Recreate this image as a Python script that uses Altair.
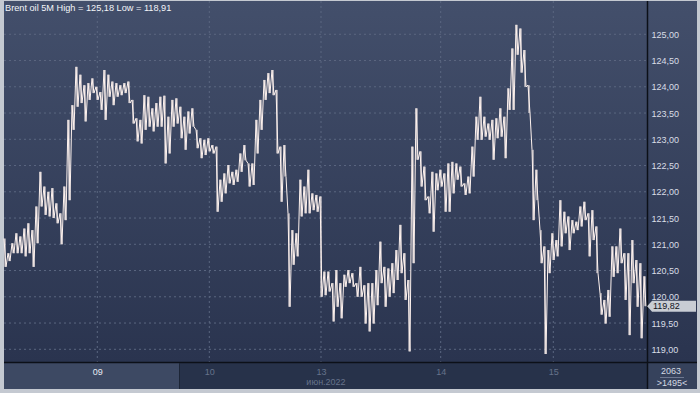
import altair as alt
import pandas as pd

# ---- data (price envelope per ~4px bucket) ----
hi = [121.11, 120.83, 121.02, 121.21, 121.15, 121.30, 121.40, 121.27, 121.72, 122.38,
      122.10, 122.00, 122.07, 121.78, 121.59, 122.10, 123.37, 123.65, 124.38, 124.23,
      124.03, 124.07, 124.16, 124.00, 123.90, 124.32, 124.23, 124.10, 124.07, 124.03,
      124.07, 124.10, 123.75, 123.40, 123.37, 123.84, 123.81, 123.59, 123.69,
      123.81, 123.83, 123.43, 123.75, 123.78, 123.62, 123.43, 123.53, 123.59, 123.18,
      123.02, 122.99, 123.02, 122.89, 122.86, 122.23, 122.35, 122.51, 122.38, 122.42,
      122.73, 122.89, 122.54, 122.54, 123.37, 123.75, 124.13, 124.26, 124.32, 123.94,
      122.86, 122.89, 121.59, 121.27, 121.21, 122.23, 122.10, 122.42, 121.97, 121.94,
      121.91, 120.48, 120.48, 120.26, 120.51, 120.26, 120.42, 120.51, 120.45, 120.26,
      120.57, 120.22, 120.26, 120.26, 120.51, 121.05, 120.57, 120.54, 120.64, 120.89,
      121.37, 120.83, 120.32, 122.86, 123.59, 122.77, 122.48, 121.91, 122.38, 122.35,
      122.42, 122.35, 122.54, 122.57, 122.54, 122.48, 122.16, 122.29, 122.86, 123.43,
      123.81, 123.43, 123.30, 123.37, 123.40, 123.59, 123.43, 123.97, 124.73, 125.18,
      125.11, 124.70, 124.03, 122.80, 122.42, 121.27, 120.96, 120.89, 121.21, 121.08,
      121.84, 121.62, 121.53, 121.46, 121.43, 121.72, 121.81, 121.59, 121.65, 121.34,
      120.07, 119.94, 120.13, 120.96, 120.96, 121.30, 120.83, 120.83, 121.08, 120.70,
      120.64, 120.39]
lo = [120.57, 120.68, 120.83, 120.83, 120.83, 120.77, 120.83, 120.57, 121.02, 121.72,
      121.56, 121.53, 121.50, 121.40, 121.00, 121.46, 121.84, 123.18, 123.62, 123.69,
      123.34, 123.75, 123.88, 123.75, 123.56, 123.37, 123.81, 123.65, 123.81, 123.84,
      123.88, 123.69, 123.30, 122.96, 122.92, 123.18, 123.24, 123.15, 123.24,
      123.24, 122.54, 122.73, 123.24, 123.30, 123.02, 122.80, 123.11, 123.24, 122.83,
      122.64, 122.70, 122.77, 122.73, 121.62, 121.81, 121.97, 122.16, 122.13, 122.19,
      122.38, 122.60, 122.10, 122.13, 122.73, 123.18, 123.75, 123.88, 123.84, 122.73,
      121.81, 122.29, 119.81, 120.61, 120.77, 121.53, 121.59, 121.59, 121.65, 121.62,
      120.00, 120.03, 120.10, 119.53, 119.81, 119.59, 120.19, 120.26, 120.19, 120.00,
      120.00, 119.49, 119.34, 119.49, 119.84, 120.26, 119.81, 120.00, 120.07, 120.32,
      120.45, 119.94, 118.96, 120.64, 122.61, 122.10, 121.84, 121.59, 121.24, 122.03,
      122.10, 121.62, 121.62, 121.97, 122.23, 122.10, 121.94, 121.97, 122.29, 122.99,
      122.99, 123.05, 122.99, 122.61, 123.02, 123.05, 122.64, 123.56, 123.56, 124.61,
      124.27, 124.00, 123.50, 121.46, 121.84, 120.64, 118.91, 120.45, 120.70, 120.77,
      120.96, 121.21, 120.89, 121.21, 121.27, 121.34, 121.46, 120.77, 121.08, 120.45,
      119.66, 119.49, 119.62, 120.38, 120.45, 120.64, 119.94, 119.27, 120.26, 119.81,
      119.21, 119.82]

y_ticks = [119.0, 119.5, 120.0, 120.5, 121.0, 121.5, 122.0, 122.5, 123.0, 123.5, 124.0, 124.5, 125.0]
day_ticks = [46.65, 102.65, 158.5, 218.35, 274.65]
day_labels = ["09", "10", "13", "14", "15"]
month_label = "июн.2022"
title_text = "Brent oil 5M High = 125,18 Low = 118,91"
last_price = 119.82
bar_total = "2063"
bar_visible = ">1495<"

# ---- tables ----
rows = []
for i, (h, l) in enumerate(zip(hi, lo)):
    rows.append({"t": 2 * i, "price": h})
    rows.append({"t": 2 * i + 1, "price": l})
price_df = pd.DataFrame(rows)
range_df = pd.DataFrame({"t": [2 * i + 0.5 for i in range(len(hi))], "hi": hi, "lo": lo})
ytick_df = pd.DataFrame({"v": y_ticks})
day_df = pd.DataFrame({"t": day_ticks, "label": day_labels})
one = pd.DataFrame({"a": [0]})
last_df = pd.DataFrame({"price": [last_price], "label": [f"{last_price:.2f}".replace(".", ",")]})
month_df = pd.DataFrame({"t": [day_ticks[2]], "label": [month_label]})

W, H = 643, 361
FONT = "Liberation Sans"
LINE = "#fff3ef"
xs = alt.Scale(domain=[0, 321.5], nice=False, zero=False)
ys = alt.Scale(domain=[118.758, 125.634], nice=False, zero=False)

parts = []
for k in range(len(day_ticks) - 1):
    mid = (day_ticks[k] + day_ticks[k + 1]) / 2
    parts.append(f"datum.value < {mid} ? '{day_labels[k]}' : ")
x_label_expr = "".join(parts) + f"'{day_labels[-1]}'"

y_axis = alt.Axis(orient="right", values=y_ticks, grid=False, ticks=False, domain=False,
                  labelExpr="replace(format(datum.value, '.2f'), '.', ',')",
                  labelPadding=4, labelAlign="left", labelBaseline="middle",
                  labelColor="#d9dee6", labelFont=FONT, labelFontSize=9, title=None, zindex=1)
x_axis = alt.Axis(orient="bottom", values=day_ticks, grid=False, ticks=False, domain=False,
                  labelExpr=x_label_expr, labelPadding=9, labelBaseline="middle",
                  labelColor={"condition": {"test": f"datum.value < {day_ticks[0] + 1}", "value": "#e6ebf3"},
                              "value": "#66728b"},
                  labelFont=FONT, labelFontSize=9, title=None, zindex=1)

grad = alt.LinearGradient(gradient="linear",
                          stops=[alt.GradientStop(color="#434f6b", offset=0),
                                 alt.GradientStop(color="#2a344f", offset=1)],
                          x1=0, x2=0, y1=0, y2=1)

bg = alt.Chart(one).mark_rect(fill=grad).encode(
    x=alt.value(0), x2=alt.value(693), y=alt.value(0), y2=alt.value(H))

hgrid = alt.Chart(ytick_df).mark_rule(color="#5b6780", strokeDash=[2, 3], strokeWidth=1).encode(
    y=alt.Y("v:Q", scale=ys, axis=y_axis), x=alt.value(0), x2=alt.value(W))

vgrid = alt.Chart(day_df).mark_rule(color="#5b6780", strokeDash=[2, 3], strokeWidth=1).encode(
    x=alt.X("t:Q", scale=xs, axis=x_axis), y=alt.value(0), y2=alt.value(H))

ranges = alt.Chart(range_df).mark_rule(color=LINE, strokeWidth=1.0).encode(
    x=alt.X("t:Q", scale=xs, axis=x_axis),
    y=alt.Y("hi:Q", scale=ys, axis=y_axis), y2="lo:Q")

line = alt.Chart(price_df).mark_line(color=LINE, strokeWidth=1.0).encode(
    x=alt.X("t:Q", scale=xs, axis=x_axis),
    y=alt.Y("price:Q", scale=ys, axis=y_axis))

band = alt.Chart(one).mark_rect(fill="#27324a").encode(
    x=alt.value(0), x2=alt.value(W), y=alt.value(H + 1), y2=alt.value(388))
band_hl = alt.Chart(one).mark_rect(fill="#3d4963").encode(
    x=alt.value(0), x2=alt.value(175), y=alt.value(H + 1), y2=alt.value(388))
cell = alt.Chart(one).mark_rect(fill="#36425c").encode(
    x=alt.value(W + 1), x2=alt.value(693), y=alt.value(H + 1), y2=alt.value(388))

sep_h = alt.Chart(one).mark_rule(color="#0c1018", strokeWidth=1.5).encode(
    x=alt.value(0), x2=alt.value(693), y=alt.value(H + 0.5))
sep_v = alt.Chart(one).mark_rule(color="#0c1018", strokeWidth=1.5).encode(
    x=alt.value(W + 0.5), y=alt.value(0), y2=alt.value(388))
sep_hl = alt.Chart(one).mark_rule(color="#1c2536", strokeWidth=1).encode(
    x=alt.value(175.5), y=alt.value(H + 1), y2=alt.value(388))

marker_box = alt.Chart(last_df).mark_rule(color="#c9cdd4", strokeWidth=11).encode(
    x=alt.value(648), x2=alt.value(692), y=alt.Y("price:Q", scale=ys, axis=y_axis))
marker_tip = alt.Chart(last_df).mark_point(shape="M-0.45,0L0.45,-1L0.45,1Z", filled=True,
                                           size=121, color="#c9cdd4", opacity=1).encode(
    x=alt.value(645.6), y=alt.Y("price:Q", scale=ys, axis=y_axis))
marker_txt = alt.Chart(last_df).mark_text(align="left", baseline="middle", font=FONT,
                                          fontSize=9, color="#10141c").encode(
    x=alt.value(649), y=alt.Y("price:Q", scale=ys, axis=y_axis), text="label:N")

title = alt.Chart(one).mark_text(align="left", baseline="middle", font=FONT, fontSize=9.2,
                                 color="#f2f4f8", text=title_text).encode(
    x=alt.value(1), y=alt.value(7))

month = alt.Chart(month_df).mark_text(align="center", baseline="middle", font=FONT, fontSize=9,
                                      color="#66728b", dx=5).encode(
    x=alt.X("t:Q", scale=xs, axis=x_axis), y=alt.value(381), text="label:N")

cnt1 = alt.Chart(one).mark_text(align="center", baseline="middle", font=FONT, fontSize=9,
                                color="#d4d9e2", text=bar_total).encode(
    x=alt.value(667), y=alt.value(370))
cnt_line = alt.Chart(one).mark_rule(color="#6e7890", strokeWidth=1).encode(
    x=alt.value(656), x2=alt.value(680), y=alt.value(376.5))
cnt2 = alt.Chart(one).mark_text(align="center", baseline="middle", font=FONT, fontSize=9,
                                color="#d4d9e2", text=bar_visible).encode(
    x=alt.value(668), y=alt.value(382))

chart = alt.layer(
    bg, hgrid, vgrid, ranges, line, band, band_hl, cell, sep_h, sep_v, sep_hl,
    marker_box, marker_tip, marker_txt, title, month, cnt1, cnt_line, cnt2
).properties(
    width=W, height=H,
    autosize=alt.AutoSizeParams(type="none"),
    padding={"left": 4, "top": 1, "right": 53, "bottom": 31},
).configure(background="#c4c9d1").configure_view(stroke=None)

chart.save("out.html", embed_options={"renderer": "svg", "actions": False})
